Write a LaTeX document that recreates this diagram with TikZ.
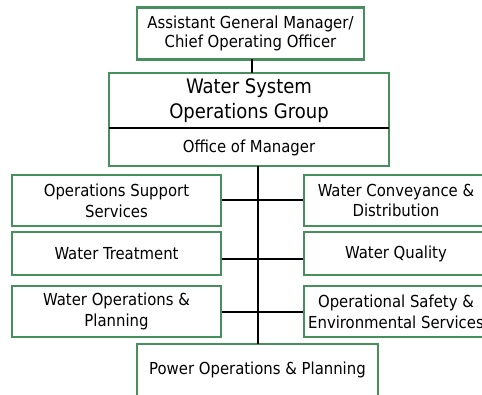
\documentclass[tikz,border=0pt]{standalone}
\usepackage{fontspec}
\setmainfont{DejaVu Sans Condensed}
\definecolor{boxgreen}{RGB}{72,143,94}
\begin{document}
\begin{tikzpicture}[x=0.75pt,y=-0.75pt,
  box/.style={draw=boxgreen,line width=1.6pt,fill=white,align=center,inner sep=0pt,font=\fontsize{12.4}{15.5}\selectfont},
  conn/.style={draw=black,line width=1.6pt}]
\useasboundingbox (0,0) rectangle (482,394);
\clip (0,0) rectangle (482,394);
% nodes
\node[box,minimum width=227*0.75pt,minimum height=52*0.75pt,font=\fontsize{12.4}{14.3}\selectfont] (agm) at (250.5,33.5) {Assistant General Manager/\\Chief Operating Officer};
\node[box,minimum width=280*0.75pt,minimum height=93*0.75pt] (wsog) at (249,119.5) {};
\node[font=\fontsize{15}{18.8}\selectfont,align=center,inner sep=0pt] (title) at (249,101) {Water System\\Operations Group};
\node[font=\fontsize{12.4}{15}\selectfont,inner sep=0pt] (office) at (249,147.5) {Office of Manager};
\coordinate (divl) at (109,128);
\coordinate (divr) at (389,128);
\draw[line width=0.9pt] (divl) -- (divr);

\node[box,minimum width=209*0.75pt,minimum height=51*0.75pt] (oss) at (116.5,200.5) {Operations Support\\Services};
\node[box,minimum width=209*0.75pt,minimum height=43*0.75pt] (wt) at (116.5,253.5) {Water Treatment};
\node[box,minimum width=209*0.75pt,minimum height=51*0.75pt] (wop) at (116.5,311.5) {Water Operations \&\\Planning};

\node[box,minimum width=184*0.75pt,minimum height=51*0.75pt] (wcd) at (396,200.5) {Water Conveyance \&\\Distribution};
\node[box,minimum width=184*0.75pt,minimum height=43*0.75pt] (wq) at (396,253.5) {Water Quality};
\node[box,minimum width=184*0.75pt,minimum height=51*0.75pt] (ose) at (396,311.5) {Operational Safety \&\\Environmental Services};

\node[box,minimum width=241*0.75pt,minimum height=52*0.75pt] (pop) at (257.5,370) {Power Operations \& Planning};

% connectors
\coordinate (topj) at (252,59);
\coordinate (wsj) at (252,73);
\draw[conn] (topj) -- (wsj);
\coordinate (vtop) at (258,166);
\coordinate (vbot) at (258,344);
\draw[conn] (vtop) -- (vbot);
\coordinate (r1) at (0,200);
\coordinate (r2) at (0,259);
\coordinate (r3) at (0,312);
\draw[conn] (oss.east |- r1) -- (wcd.west |- r1);
\draw[conn] (wt.east |- r2) -- (wq.west |- r2);
\draw[conn] (wop.east |- r3) -- (ose.west |- r3);
\end{tikzpicture}
\end{document}
